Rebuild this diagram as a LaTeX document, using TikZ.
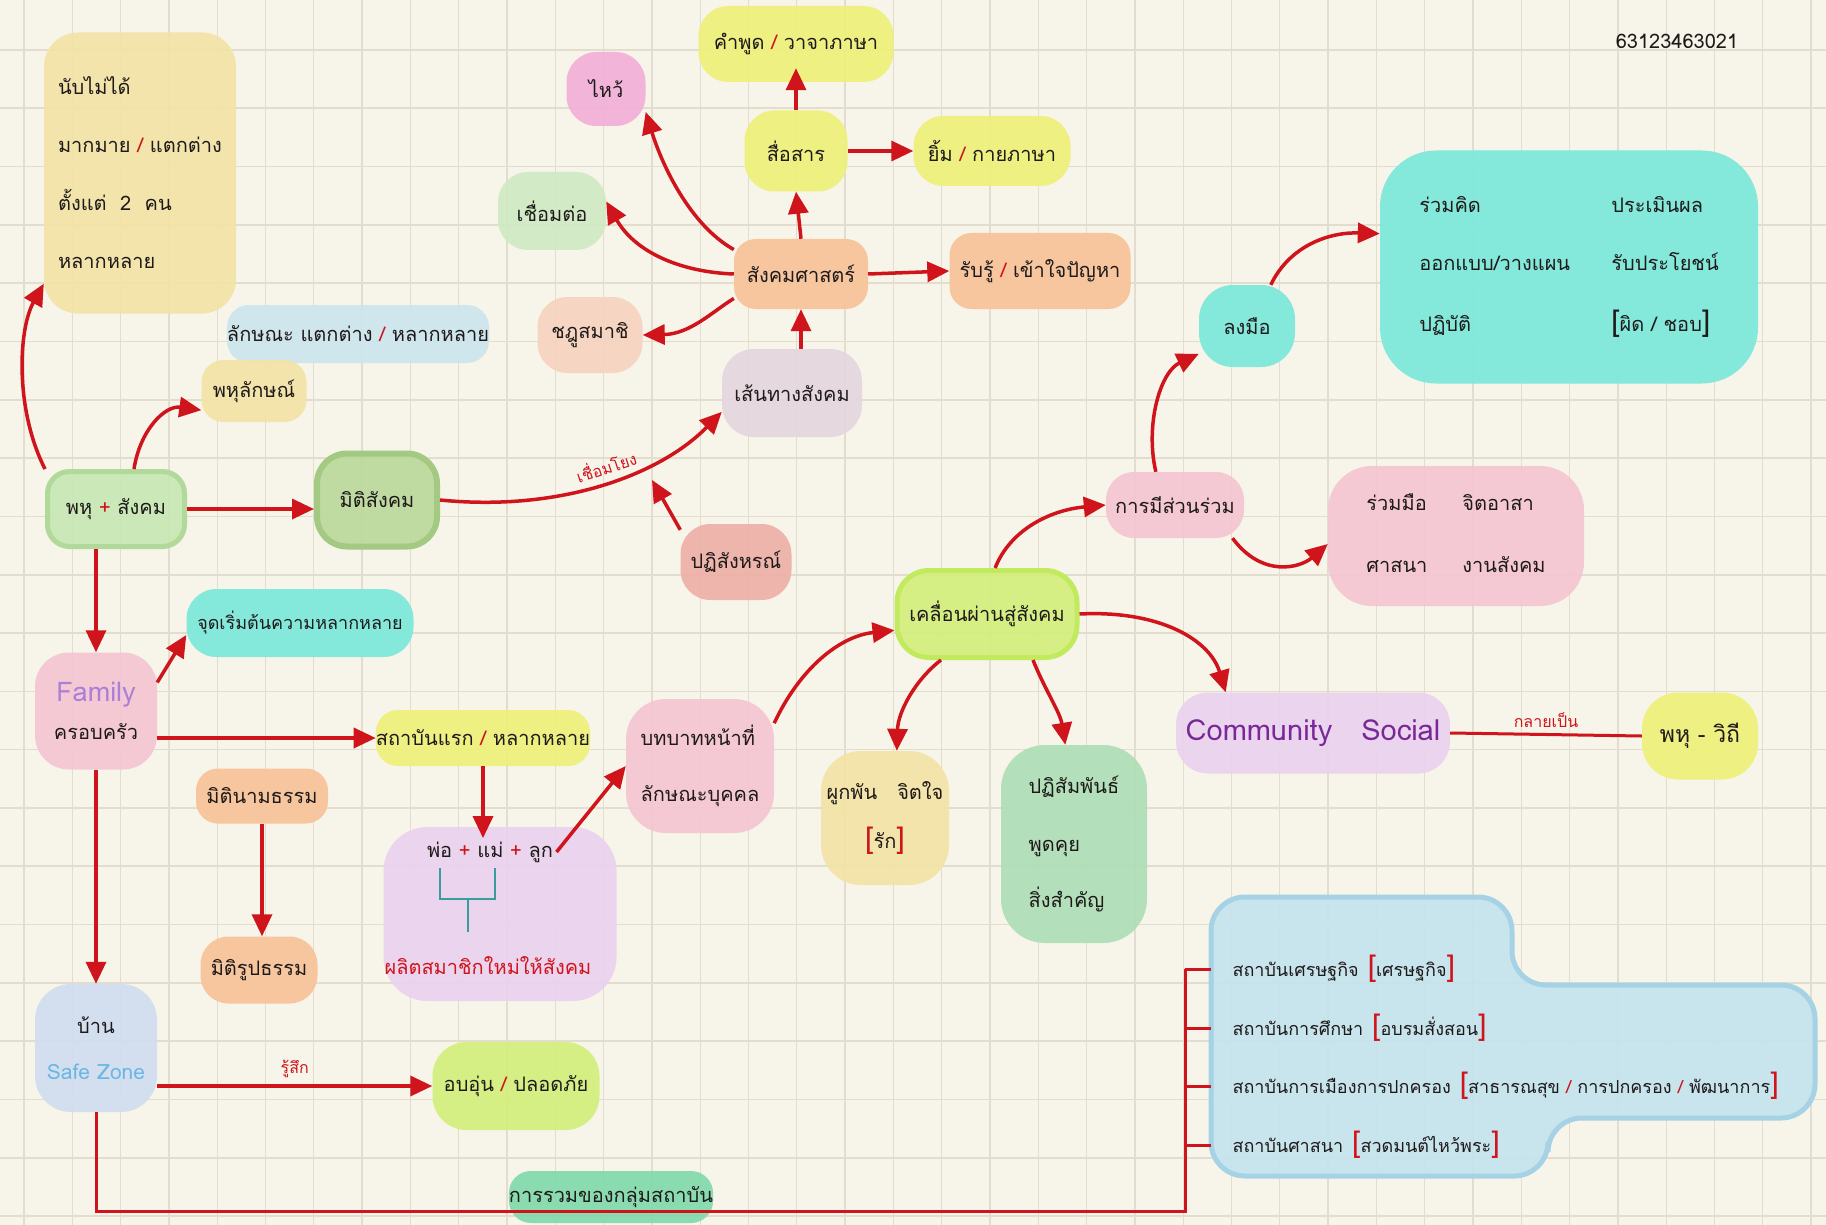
\documentclass[tikz,border=0pt]{standalone}
\usepackage{fontspec}
\usepackage{array}
\newfontfamily\thai[Script=Thai]{Loma}
\usetikzlibrary{arrows.meta,calc}
\definecolor{bg}{HTML}{F7F4E9}
\definecolor{gridc}{HTML}{E2DDCF}
\definecolor{arrowred}{HTML}{CF141C}
\definecolor{ink}{HTML}{1E1A1A}
\definecolor{yelp}{HTML}{F3E3A6}
\definecolor{yelb}{HTML}{EEF07A}
\definecolor{lblue}{HTML}{CCE5EE}
\definecolor{grn}{HTML}{C8E7B4}
\definecolor{grnD}{HTML}{B1D99A}
\definecolor{grn2}{HTML}{BBD99C}
\definecolor{grn2D}{HTML}{A3C982}
\definecolor{cyn}{HTML}{7BE8DA}
\definecolor{pnk}{HTML}{F5C6D3}
\definecolor{sblue}{HTML}{D0DEF0}
\definecolor{orng}{HTML}{F7C398}
\definecolor{lime}{HTML}{D3EF7C}
\definecolor{limeD}{HTML}{C2EA5E}
\definecolor{purp}{HTML}{EAD2EE}
\definecolor{salm}{HTML}{EEB0A8}
\definecolor{mauve}{HTML}{E5D6DF}
\definecolor{peach}{HTML}{F6D4BF}
\definecolor{lgrn}{HTML}{D0EAC4}
\definecolor{mint}{HTML}{AEDFB6}
\definecolor{pnk2}{HTML}{F2AFD8}
\definecolor{bgrn}{HTML}{82D9AC}
\definecolor{bblue}{HTML}{C4E3EE}
\definecolor{bblueD}{HTML}{A6D2E6}
\definecolor{tealc}{HTML}{3B9C9C}
\definecolor{cspurp}{HTML}{7A2898}
\definecolor{famp}{HTML}{A97FD8}
\definecolor{szb}{HTML}{6BB6E4}
\newcommand\rsl{{\color{arrowred}/}}
\newcommand\rlb{{\color{arrowred}\fontsize{30}{30}\selectfont[}}
\newcommand\rrb{{\color{arrowred}\fontsize{30}{30}\selectfont]}}
\newcommand\blb{{\fontsize{30}{30}\selectfont[}}
\newcommand\brb{{\fontsize{30}{30}\selectfont]}}
\newcommand\rpl{{\color{arrowred}+}}
\newcommand\tf{\thai\fontsize{20}{26}\selectfont}
\begin{document}
\begin{tikzpicture}[x=1pt,y=-1pt,
  every node/.style={font=\tf, text=ink},
  blob/.style={fill=#1, rounded corners=22pt, inner sep=0pt, fill opacity=0.92, text opacity=1},
  sz/.style 2 args={minimum width=#1pt, minimum height=#2pt},
  arr/.style={draw=arrowred, line width=3.5pt, -{Triangle[length=22pt,width=20pt]}},
  rline/.style={draw=arrowred, line width=3pt},
  lbl/.style={font=\thai\fontsize{16}{18}\selectfont, text=arrowred},
  inst/.style={anchor=west, font=\thai\fontsize{18}{22}\selectfont},
]
\useasboundingbox (0,0) rectangle (1826,1225);
\fill[bg] (0,0) rectangle (1826,1225);
\foreach \i in {0,...,37} \draw[gridc, line width=1.3pt] ({24+48.3*\i},0) -- ({24+48.3*\i},1225);
\foreach \j in {0,...,20} \draw[gridc, line width=1.6pt] (0,{50+58.3*\j}) -- (1826,{50+58.3*\j});

% big blue background of the institutions
\filldraw[fill=bblue, draw=bblueD, line width=5pt, fill opacity=0.92, rounded corners=34pt]
  (1211,897) -- (1512,897) -- (1512,985) -- (1815,985) -- (1815,1118) -- (1548,1118) -- (1548,1176) -- (1211,1176) -- cycle;

% nodes
\node[blob=yelp, sz={192}{281}, align=left, rounded corners=34pt] (tl) at (140,173) {นับไม่ได้\\[32pt]มากมาย \rsl{} แตกต่าง\\[32pt]ตั้งแต่\ \ 2\ \ คน\\[32pt]หลากหลาย};
\node[blob=lblue, sz={238}{58}] (lk) at (358,334) {ลักษณะ แตกต่าง \rsl{} หลากหลาย};
\node[blob=yelp, sz={105}{62}] (phl) at (254,391) {พหุลักษณ์};
\node[blob=grn, sz={137}{75}, draw=grnD, line width=5pt] (main) at (116,509) {พหุ \rpl{} สังคม};
\node[blob=grn2, sz={120}{93}, draw=grn2D, line width=6pt, rounded corners=30pt] (mitisoc) at (377,500) {มิติสังคม};
\node[blob=cyn, sz={227}{68}, font=\thai\fontsize{18}{22}\selectfont, rounded corners=30pt] (jud) at (300,623) {จุดเริ่มต้นความหลากหลาย};
\node[blob=pnk, sz={122}{117}, align=center, rounded corners=34pt] (fam) at (96,711) {{\color{famp}\fontsize{27}{30}\selectfont Family}\\[12pt]ครอบครัว};
\node[blob=yelb, sz={210}{56}] (sthaban) at (483,738) {สถาบันแรก \rsl{} หลากหลาย};
\node[blob=orng, sz={132}{55}] (namt) at (262,796) {มิตินามธรรม};
\node[blob=orng, sz={117}{67}, rounded corners=28pt] (rupt) at (259,970) {มิติรูปธรรม};
\node[blob=sblue, sz={122}{128}, align=center, rounded corners=36pt] (home) at (96,1048) {บ้าน\\[20pt]{\color{szb}\fontsize{21}{24}\selectfont Safe Zone}};
\node[blob=lime, sz={167}{88}, rounded corners=34pt] (warm) at (516,1086) {อบอุ่น \rsl{} ปลอดภัย};
\node[blob=purp, sz={233}{174}, rounded corners=44pt] (fam2) at (500,914) {};
\node (pml) at (490,852) {พ่อ \rpl{} แม่ \rpl{} ลูก};
\node[text=arrowred] (prod) at (488,966) {ผลิตสมาชิกใหม่ให้สังคม};
\node[blob=pnk, sz={148}{134}, align=left, rounded corners=40pt] (role) at (700,766) {บทบาทหน้าที่\\[30pt]ลักษณะบุคคล};
\node[blob=lime, sz={180}{87}, draw=limeD, line width=5pt, rounded corners=32pt] (move) at (987,614) {เคลื่อนผ่านสู่สังคม};
\node[blob=salm, sz={111}{76}, rounded corners=30pt] (pati) at (736,562) {ปฏิสังหรณ์};
\node[blob=mauve, sz={140}{88}, rounded corners=32pt] (path) at (792,393) {เส้นทางสังคม};
\node[blob=orng, sz={134}{70}] (soc) at (801,274) {สังคมศาสตร์};
\node[blob=yelb, sz={103}{81}, rounded corners=30pt] (comm) at (796,151) {สื่อสาร};
\node[blob=yelb, sz={195}{76}, rounded corners=30pt] (speech) at (796,44) {คำพูด \rsl{} วาจาภาษา};
\node[blob=yelb, sz={157}{70}, rounded corners=30pt] (smile) at (992,151) {ยิ้ม \rsl{} กายภาษา};
\node[blob=pnk2, sz={79}{74}, rounded corners=30pt] (wai) at (606,89) {ไหว้};
\node[blob=lgrn, sz={108}{78}, rounded corners=30pt] (conn) at (552,211) {เชื่อมต่อ};
\node[blob=peach, sz={105}{76}, rounded corners=30pt] (member) at (590,335) {ชฎูสมาชิ};
\node[blob=orng, sz={181}{76}] (perceive) at (1040,271) {รับรู้ \rsl{} เข้าใจปัญหา};
\node[blob=pnk, sz={138}{66}, rounded corners=28pt] (part) at (1175,505) {การมีส่วนร่วม};
\node[blob=pnk, sz={256}{140}, rounded corners=44pt] (act) at (1456,536) {\begin{tabular}{@{}p{96pt}@{}l@{}}ร่วมมือ & จิตอาสา\\[36pt] ศาสนา & งานสังคม\end{tabular}};
\node[blob=cyn, sz={96}{82}, rounded corners=34pt] (do) at (1247,326) {ลงมือ};
\node[blob=cyn, sz={378}{233}, rounded corners=56pt] (steps) at (1569,267) {\begin{tabular}{@{}p{192pt}@{}l@{}}ร่วมคิด & ประเมินผล\\[32pt] ออกแบบ/วางแผน & รับประโยชน์\\[32pt] ปฏิบัติ & \blb ผิด / ชอบ\brb\end{tabular}};
\node[blob=purp, sz={274}{81}, font=\thai\fontsize{29}{32}\selectfont, text=cspurp, rounded corners=32pt] (cs) at (1313,733) {Community\quad Social};
\node[blob=yelb, sz={116}{87}, font=\thai\fontsize{23}{26}\selectfont, rounded corners=36pt] (way) at (1700,736) {พหุ - วิถี};
\node[blob=yelp, sz={128}{134}, align=center, rounded corners=40pt] (love) at (885,818) {ผูกพัน\quad จิตใจ\\[22pt]\rlb รัก\rrb};
\node[blob=mint, sz={146}{198}, align=left, rounded corners=44pt] (inter) at (1074,844) {ปฏิสัมพันธ์\\[32pt]พูดคุย\\[30pt]สิ่งสำคัญ};
\node[blob=bgrn, sz={198}{52}] (grp) at (611,1197) {การรวมของกลุ่มสถาบัน};
\node (idnum) at (1677,41) {63123463021};

\node[inst] (inst1) at (1229,969) {สถาบันเศรษฐกิจ\enspace \rlb เศรษฐกิจ\rrb};
\node[inst] (inst2) at (1229,1028) {สถาบันการศึกษา\enspace \rlb อบรมสั่งสอน\rrb};
\node[inst] (inst3) at (1229,1086) {สถาบันการเมืองการปกครอง\enspace \rlb สาธารณสุข \rsl{} การปกครอง \rsl{} พัฒนาการ\rrb};
\node[inst] (inst4) at (1229,1145) {สถาบันศาสนา\enspace \rlb สวดมนต์ไหว้พระ\rrb};

% teal bracket under parents
\draw[tealc, line width=2pt] (440,868) -- (440,899) -- (495,899) -- (495,868);
\draw[tealc, line width=2pt] (468,899) -- (468,932);

% bracket + bottom line
\coordinate (brtop) at (1185,969);
\coordinate (brbot) at (1185,1211);
\draw[rline] (home.south) -- (home.south |- brbot) -- (brbot) -- (brtop);
\foreach \n in {inst1,inst2,inst3,inst4} \draw[rline] (brtop |- \n.west) -- ++(26,0);

% straight connectors
\draw[arr] (main.east) -- (main.east -| mitisoc.west);
\draw[arr] (main.south -| fam.north) -- (fam.north);
\draw[arr] (fam.25) -- ([yshift=-12pt]jud.west);
\draw[arr] (fam.east |- sthaban) -- (sthaban.west);
\draw[arr] (fam.south) -- (home.north);
\draw[arr] (namt.south) -- (namt.south |- rupt.north);
\draw[arr] (sthaban.south) -- (sthaban.south |- pml.north);
\draw[arr] (pml.east) -- (role.west);
\draw[arr] (home.east |- warm) -- (warm.west) node[midway, above=3pt, lbl] {รู้สึก};
\draw[arr] (soc.north) -- (comm.south);
\draw[arr] (comm.north) -- ([yshift=14pt]speech.south);
\draw[arr] (comm.east) -- (smile.west);
\draw[arr] (soc.east) -- (perceive.west);
\draw[arr] (soc.south |- path.north) -- (soc.south);
\draw[rline] (cs.east) -- (way.west) node[midway, above=2pt, lbl] {กลายเป็น};

% curved connectors
\draw[arr] (main.north west) .. controls (15,410) and (18,330) .. (tl.229);
\draw[arr] ([xshift=18pt]main.north) .. controls (140,430) and (165,405) .. (phl.200);
\draw[arr] (mitisoc.east) .. controls (560,512) and (660,475) .. (path.195);
\node[lbl, rotate=18] (linklbl) at (606,466) {เชื่อมโยง};
\coordinate (onlink) at (652,480);
\draw[arr] (pati.150) -- (onlink);
\draw[arr] (soc.160) .. controls (690,225) and (662,165) .. (wai.-30);
\draw[arr] (soc.west) .. controls (680,272) and (635,252) .. (conn.10);
\draw[arr] (soc.200) .. controls (712,312) and (690,334) .. (member.east);
\draw[arr] (part.120) .. controls (1145,425) and (1160,372) .. (do.210);
\draw[arr] (do.60) .. controls (1290,245) and (1330,232) .. (steps.170);
\draw[arr] (move.80) .. controls (1010,530) and (1050,510) .. (part.west);
\draw[arr] (part.-30) .. controls (1262,578) and (1300,568) .. ([yshift=-8pt]act.west);
\draw[arr] (role.30) .. controls (800,668) and (840,636) .. (move.190);
\draw[arr] (move.east) .. controls (1160,610) and (1210,640) .. (cs.155);
\draw[arr] (move.225) .. controls (915,680) and (898,712) .. (love.80);
\draw[arr] (move.-45) .. controls (1045,690) and (1060,712) .. (inter.95);
\end{tikzpicture}
\end{document}
